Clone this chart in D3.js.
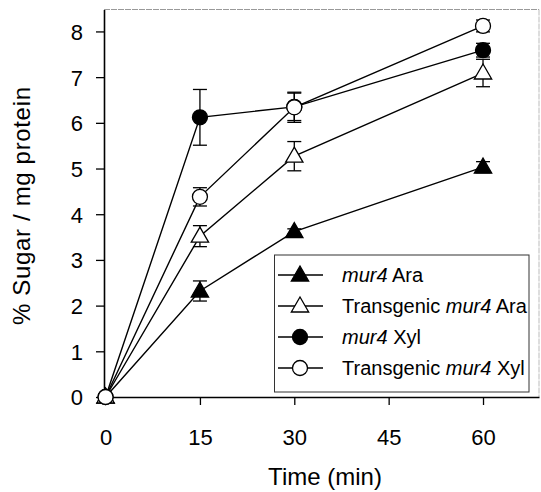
<!DOCTYPE html>
<html>
<head>
<meta charset="utf-8">
<script src="https://cdn.jsdelivr.net/npm/d3@7"></script>
<style>
html,body{margin:0;padding:0;background:#fff;}
svg text{font-family:Arial,"Liberation Sans",Helvetica,sans-serif;fill:#000;}
</style>
</head>
<body>
<svg id="chart" width="541" height="492"></svg>
<script>
const times = [0, 15, 30, 60];
const xTicks = [0, 15, 30, 45, 60];
const yTicks = [0, 1, 2, 3, 4, 5, 6, 7, 8];
const seriesNames = ["mur4 Ara", "Transgenic mur4 Ara", "mur4 Xyl", "Transgenic mur4 Xyl"];
const mur4Ara = [0, 2.32, 3.62, 5.03];
const mur4AraErr = [0, 0.22, 0.06, 0.12];
const transAra = [0, 3.52, 5.27, 7.09];
const transAraErr = [0, 0.23, 0.32, 0.30];
const mur4Xyl = [0, 6.12, 6.35, 7.59];
const mur4XylErr = [0, 0.61, 0.3, 0.15];
const transXyl = [0, 4.38, 6.34, 8.12];
const transXylErr = [0, 0.2, 0.33, 0.13];

const series = [
  {name: seriesNames[0], values: mur4Ara, err: mur4AraErr, shape: "triangle", fill: "#000"},
  {name: seriesNames[1], values: transAra, err: transAraErr, shape: "triangle", fill: "#fff"},
  {name: seriesNames[2], values: mur4Xyl, err: mur4XylErr, shape: "circle", fill: "#000"},
  {name: seriesNames[3], values: transXyl, err: transXylErr, shape: "circle", fill: "#fff"}
];

const svg = d3.select("#chart");
const x = d3.scaleLinear().domain([-0.25, 68.9]).range([104, 539]);
const y = d3.scaleLinear().domain([0, 8.48]).range([397, 9.5]);

// frame top/right (faint)
svg.append("line").attr("x1", 104).attr("x2", 539).attr("y1", 9.5).attr("y2", 9.5)
  .attr("stroke", "#999").attr("stroke-width", 1).attr("stroke-dasharray", "6,1");
svg.append("line").attr("x1", 539).attr("x2", 539).attr("y1", 9.5).attr("y2", 397)
  .attr("stroke", "#bbb").attr("stroke-width", 1).attr("stroke-dasharray", "6,1");

// axes
const xAxis = svg.append("g").attr("transform", "translate(0,397)")
  .call(d3.axisBottom(x).tickValues(xTicks).tickSize(8).tickPadding(24).tickSizeOuter(0));
const yAxis = svg.append("g").attr("transform", "translate(104,0)")
  .call(d3.axisLeft(y).tickValues(yTicks).tickSize(8).tickPadding(13).tickSizeOuter(0));
[xAxis, yAxis].forEach(a => {
  a.select(".domain").attr("stroke", "#000").attr("stroke-width", 1.6);
  a.selectAll(".tick line").attr("stroke", "#000").attr("stroke-width", 1.3);
  a.selectAll(".tick text").attr("font-size", 22).attr("font-family", "Arial, 'Liberation Sans', sans-serif").attr("fill", "#000");
});
yAxis.selectAll(".tick text").attr("dy", "0.36em");

// axis titles
svg.append("text").attr("x", 325).attr("y", 485).attr("text-anchor", "middle")
  .attr("font-size", 24).text("Time (min)");
svg.append("text").attr("transform", "translate(30,206) rotate(-90)").attr("text-anchor", "middle")
  .attr("font-size", 24).attr("textLength", 238).text("% Sugar / mg protein");

const line = d3.line().x((d, i) => x(times[i])).y(d => y(d));
const triSym = d3.symbol().type(d3.symbolTriangle).size(130);
const cirR = 7.5;

function drawMarker(g, s, cx, cy) {
  if (s.shape === "circle") {
    g.append("circle").attr("cx", cx).attr("cy", cy).attr("r", cirR)
      .attr("fill", s.fill).attr("stroke", "#000").attr("stroke-width", 1.3);
  } else {
    g.append("path").attr("d", triSym()).attr("transform", `translate(${cx},${cy + 1})`)
      .attr("fill", s.fill).attr("stroke", "#000").attr("stroke-width", 1.3);
  }
}

series.forEach(s => {
  const g = svg.append("g");
  g.append("path").datum(s.values).attr("d", line).attr("fill", "none")
    .attr("stroke", "#000").attr("stroke-width", 1.4);
  s.values.forEach((v, i) => {
    const cx = x(times[i]);
    const e = s.err[i];
    if (e > 0) {
      const eg = g.append("g").attr("stroke", "#000").attr("stroke-width", 1.3);
      eg.append("line").attr("x1", cx).attr("x2", cx).attr("y1", y(v - e)).attr("y2", y(v + e));
      eg.append("line").attr("x1", cx - 7).attr("x2", cx + 7).attr("y1", y(v - e)).attr("y2", y(v - e));
      eg.append("line").attr("x1", cx - 7).attr("x2", cx + 7).attr("y1", y(v + e)).attr("y2", y(v + e));
    }
    drawMarker(g, s, cx, y(v));
  });
});

// legend
const lg = svg.append("g");
lg.append("rect").attr("x", 274.5).attr("y", 255).attr("width", 254.5).attr("height", 137)
  .attr("fill", "#fff").attr("stroke", "#333").attr("stroke-width", 1);
const rowY = [275, 306, 337, 368];
series.forEach((s, i) => {
  const yy = rowY[i];
  lg.append("line").attr("x1", 278).attr("x2", 323).attr("y1", yy).attr("y2", yy)
    .attr("stroke", "#000").attr("stroke-width", 1.4);
  drawMarker(lg, s, 300, yy);
  const t = lg.append("text").attr("x", 342).attr("y", yy).attr("dy", "0.36em").attr("font-size", 20);
  const parts = s.name.split("mur4");
  if (parts[0]) t.append("tspan").text(parts[0]);
  t.append("tspan").attr("font-style", "italic").text("mur4");
  t.append("tspan").text(parts[1]);
});
</script>
</body>
</html>
